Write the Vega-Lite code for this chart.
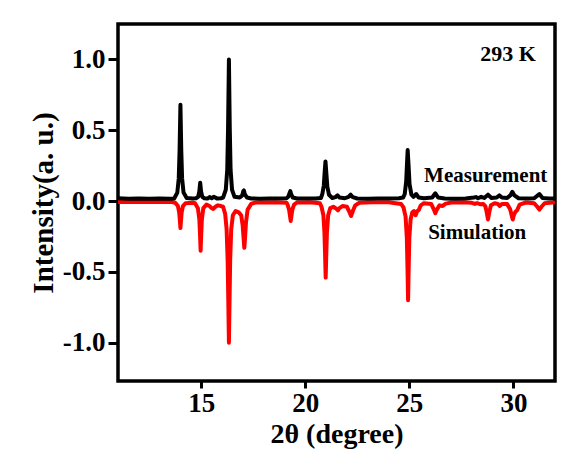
{
  "$schema": "https://vega.github.io/schema/vega-lite/v6.json",
  "width": 437,
  "height": 357,
  "autosize": {"type": "none"},
  "padding": {"left": 118, "top": 24, "right": 13, "bottom": 71},
  "background": "white",
  "config": {
    "font": "Liberation Serif",
    "view": {"stroke": "black", "strokeWidth": 3.5},
    "axis": {
      "grid": false,
      "domain": false,
      "ticks": true,
      "tickColor": "black",
      "tickWidth": 3,
      "labelFont": "Liberation Serif",
      "labelFontWeight": "bold",
      "labelFontSize": 27,
      "labelColor": "black",
      "titleFont": "Liberation Serif",
      "titleFontWeight": "bold",
      "titleFontSize": 29,
      "titleColor": "black"
    }
  },
  "datasets": {
    "xrd": [
      {"s":"Measurement","x":11.0,"y":0.02},{"s":"Measurement","x":11.5,"y":0.017},{"s":"Measurement","x":12.0,"y":0.019},{"s":"Measurement","x":12.5,"y":0.016},{"s":"Measurement","x":13.0,"y":0.018},{"s":"Measurement","x":13.5,"y":0.017},
      {"s":"Measurement","x":13.7,"y":0.018},{"s":"Measurement","x":13.85,"y":0.06},{"s":"Measurement","x":13.92,"y":0.16},{"s":"Measurement","x":13.96,"y":0.36},{"s":"Measurement","x":14.0,"y":0.68},{"s":"Measurement","x":14.04,"y":0.36},{"s":"Measurement","x":14.08,"y":0.16},{"s":"Measurement","x":14.15,"y":0.06},{"s":"Measurement","x":14.3,"y":0.022},
      {"s":"Measurement","x":14.6,"y":0.018},
      {"s":"Measurement","x":14.75,"y":0.02},{"s":"Measurement","x":14.85,"y":0.03},{"s":"Measurement","x":14.91,"y":0.07},{"s":"Measurement","x":14.95,"y":0.13},{"s":"Measurement","x":14.99,"y":0.07},{"s":"Measurement","x":15.05,"y":0.03},{"s":"Measurement","x":15.15,"y":0.02},
      {"s":"Measurement","x":15.3,"y":0.018},{"s":"Measurement","x":15.4,"y":0.028},{"s":"Measurement","x":15.5,"y":0.02},{"s":"Measurement","x":15.6,"y":0.03},{"s":"Measurement","x":15.75,"y":0.019},{"s":"Measurement","x":15.95,"y":0.02},
      {"s":"Measurement","x":16.05,"y":0.025},{"s":"Measurement","x":16.18,"y":0.08},{"s":"Measurement","x":16.25,"y":0.22},{"s":"Measurement","x":16.29,"y":0.52},{"s":"Measurement","x":16.33,"y":1.0},{"s":"Measurement","x":16.37,"y":0.52},{"s":"Measurement","x":16.41,"y":0.22},{"s":"Measurement","x":16.48,"y":0.08},{"s":"Measurement","x":16.6,"y":0.03},
      {"s":"Measurement","x":16.85,"y":0.025},{"s":"Measurement","x":16.97,"y":0.04},{"s":"Measurement","x":17.02,"y":0.07},{"s":"Measurement","x":17.05,"y":0.075},{"s":"Measurement","x":17.09,"y":0.05},{"s":"Measurement","x":17.2,"y":0.025},{"s":"Measurement","x":17.4,"y":0.018},
      {"s":"Measurement","x":17.8,"y":0.017},{"s":"Measurement","x":18.3,"y":0.019},{"s":"Measurement","x":18.8,"y":0.018},{"s":"Measurement","x":19.1,"y":0.02},
      {"s":"Measurement","x":19.18,"y":0.03},{"s":"Measurement","x":19.24,"y":0.055},{"s":"Measurement","x":19.28,"y":0.07},{"s":"Measurement","x":19.32,"y":0.05},{"s":"Measurement","x":19.4,"y":0.025},{"s":"Measurement","x":19.6,"y":0.018},
      {"s":"Measurement","x":20.0,"y":0.019},{"s":"Measurement","x":20.5,"y":0.018},{"s":"Measurement","x":20.75,"y":0.022},
      {"s":"Measurement","x":20.82,"y":0.05},{"s":"Measurement","x":20.89,"y":0.11},{"s":"Measurement","x":20.93,"y":0.2},{"s":"Measurement","x":20.97,"y":0.28},{"s":"Measurement","x":21.01,"y":0.2},{"s":"Measurement","x":21.06,"y":0.1},{"s":"Measurement","x":21.14,"y":0.045},{"s":"Measurement","x":21.3,"y":0.022},
      {"s":"Measurement","x":21.45,"y":0.028},{"s":"Measurement","x":21.55,"y":0.04},{"s":"Measurement","x":21.65,"y":0.025},{"s":"Measurement","x":21.9,"y":0.02},{"s":"Measurement","x":22.08,"y":0.03},{"s":"Measurement","x":22.18,"y":0.045},{"s":"Measurement","x":22.28,"y":0.028},{"s":"Measurement","x":22.5,"y":0.018},
      {"s":"Measurement","x":23.0,"y":0.017},{"s":"Measurement","x":23.5,"y":0.019},{"s":"Measurement","x":24.0,"y":0.018},{"s":"Measurement","x":24.5,"y":0.02},{"s":"Measurement","x":24.7,"y":0.025},
      {"s":"Measurement","x":24.78,"y":0.05},{"s":"Measurement","x":24.85,"y":0.14},{"s":"Measurement","x":24.89,"y":0.27},{"s":"Measurement","x":24.92,"y":0.36},{"s":"Measurement","x":24.96,"y":0.26},{"s":"Measurement","x":25.01,"y":0.12},{"s":"Measurement","x":25.1,"y":0.045},{"s":"Measurement","x":25.2,"y":0.03},
      {"s":"Measurement","x":25.33,"y":0.05},{"s":"Measurement","x":25.45,"y":0.025},{"s":"Measurement","x":25.7,"y":0.02},{"s":"Measurement","x":26.1,"y":0.025},{"s":"Measurement","x":26.25,"y":0.055},{"s":"Measurement","x":26.38,"y":0.025},{"s":"Measurement","x":26.7,"y":0.018},{"s":"Measurement","x":27.2,"y":0.017},{"s":"Measurement","x":27.7,"y":0.019},
      {"s":"Measurement","x":28.1,"y":0.025},{"s":"Measurement","x":28.2,"y":0.028},{"s":"Measurement","x":28.3,"y":0.02},{"s":"Measurement","x":28.45,"y":0.03},{"s":"Measurement","x":28.6,"y":0.022},{"s":"Measurement","x":28.78,"y":0.045},{"s":"Measurement","x":28.95,"y":0.022},{"s":"Measurement","x":29.2,"y":0.025},{"s":"Measurement","x":29.33,"y":0.04},{"s":"Measurement","x":29.45,"y":0.025},{"s":"Measurement","x":29.7,"y":0.022},{"s":"Measurement","x":29.85,"y":0.04},{"s":"Measurement","x":29.95,"y":0.065},{"s":"Measurement","x":30.05,"y":0.04},{"s":"Measurement","x":30.25,"y":0.02},{"s":"Measurement","x":30.7,"y":0.018},{"s":"Measurement","x":31.0,"y":0.02},{"s":"Measurement","x":31.25,"y":0.05},{"s":"Measurement","x":31.4,"y":0.022},{"s":"Measurement","x":31.7,"y":0.018},{"s":"Measurement","x":32.0,"y":0.018},

      {"s":"Simulation","x":11.0,"y":-0.007},{"s":"Simulation","x":13.6,"y":-0.007},
      {"s":"Simulation","x":13.75,"y":-0.012},{"s":"Simulation","x":13.88,"y":-0.035},{"s":"Simulation","x":13.94,"y":-0.08},{"s":"Simulation","x":13.97,"y":-0.13},{"s":"Simulation","x":14.0,"y":-0.19},{"s":"Simulation","x":14.03,"y":-0.13},{"s":"Simulation","x":14.06,"y":-0.08},{"s":"Simulation","x":14.12,"y":-0.035},{"s":"Simulation","x":14.25,"y":-0.015},
      {"s":"Simulation","x":14.6,"y":-0.012},
      {"s":"Simulation","x":14.7,"y":-0.015},{"s":"Simulation","x":14.84,"y":-0.05},{"s":"Simulation","x":14.91,"y":-0.13},{"s":"Simulation","x":14.94,"y":-0.23},{"s":"Simulation","x":14.97,"y":-0.35},{"s":"Simulation","x":15.0,"y":-0.23},{"s":"Simulation","x":15.03,"y":-0.13},{"s":"Simulation","x":15.1,"y":-0.05},{"s":"Simulation","x":15.25,"y":-0.025},
      {"s":"Simulation","x":15.4,"y":-0.035},{"s":"Simulation","x":15.5,"y":-0.05},{"s":"Simulation","x":15.58,"y":-0.055},{"s":"Simulation","x":15.68,"y":-0.04},{"s":"Simulation","x":15.8,"y":-0.03},{"s":"Simulation","x":15.95,"y":-0.035},
      {"s":"Simulation","x":16.05,"y":-0.04},{"s":"Simulation","x":16.15,"y":-0.09},{"s":"Simulation","x":16.22,"y":-0.2},{"s":"Simulation","x":16.27,"y":-0.42},{"s":"Simulation","x":16.3,"y":-0.7},{"s":"Simulation","x":16.33,"y":-1.0},{"s":"Simulation","x":16.36,"y":-0.7},{"s":"Simulation","x":16.39,"y":-0.42},{"s":"Simulation","x":16.44,"y":-0.2},{"s":"Simulation","x":16.52,"y":-0.1},{"s":"Simulation","x":16.65,"y":-0.07},
      {"s":"Simulation","x":16.8,"y":-0.08},{"s":"Simulation","x":16.92,"y":-0.1},{"s":"Simulation","x":16.99,"y":-0.17},{"s":"Simulation","x":17.04,"y":-0.27},{"s":"Simulation","x":17.07,"y":-0.33},{"s":"Simulation","x":17.1,"y":-0.27},{"s":"Simulation","x":17.15,"y":-0.15},{"s":"Simulation","x":17.23,"y":-0.06},{"s":"Simulation","x":17.4,"y":-0.02},
      {"s":"Simulation","x":17.6,"y":-0.01},{"s":"Simulation","x":18.5,"y":-0.008},{"s":"Simulation","x":19.1,"y":-0.012},
      {"s":"Simulation","x":19.15,"y":-0.025},{"s":"Simulation","x":19.22,"y":-0.06},{"s":"Simulation","x":19.26,"y":-0.1},{"s":"Simulation","x":19.3,"y":-0.14},{"s":"Simulation","x":19.34,"y":-0.1},{"s":"Simulation","x":19.38,"y":-0.06},{"s":"Simulation","x":19.46,"y":-0.025},{"s":"Simulation","x":19.6,"y":-0.01},
      {"s":"Simulation","x":20.2,"y":-0.008},{"s":"Simulation","x":20.7,"y":-0.015},
      {"s":"Simulation","x":20.78,"y":-0.04},{"s":"Simulation","x":20.87,"y":-0.1},{"s":"Simulation","x":20.92,"y":-0.22},{"s":"Simulation","x":20.95,"y":-0.37},{"s":"Simulation","x":20.98,"y":-0.54},{"s":"Simulation","x":21.01,"y":-0.37},{"s":"Simulation","x":21.04,"y":-0.22},{"s":"Simulation","x":21.1,"y":-0.1},{"s":"Simulation","x":21.2,"y":-0.05},
      {"s":"Simulation","x":21.35,"y":-0.04},{"s":"Simulation","x":21.5,"y":-0.055},{"s":"Simulation","x":21.57,"y":-0.065},{"s":"Simulation","x":21.64,"y":-0.05},{"s":"Simulation","x":21.8,"y":-0.035},{"s":"Simulation","x":22.0,"y":-0.04},{"s":"Simulation","x":22.1,"y":-0.07},{"s":"Simulation","x":22.2,"y":-0.105},{"s":"Simulation","x":22.3,"y":-0.065},{"s":"Simulation","x":22.4,"y":-0.03},{"s":"Simulation","x":22.6,"y":-0.012},
      {"s":"Simulation","x":23.2,"y":-0.008},{"s":"Simulation","x":24.0,"y":-0.008},{"s":"Simulation","x":24.6,"y":-0.02},
      {"s":"Simulation","x":24.72,"y":-0.045},{"s":"Simulation","x":24.82,"y":-0.11},{"s":"Simulation","x":24.88,"y":-0.26},{"s":"Simulation","x":24.91,"y":-0.46},{"s":"Simulation","x":24.94,"y":-0.7},{"s":"Simulation","x":24.97,"y":-0.46},{"s":"Simulation","x":25.0,"y":-0.26},{"s":"Simulation","x":25.06,"y":-0.13},{"s":"Simulation","x":25.14,"y":-0.08},
      {"s":"Simulation","x":25.22,"y":-0.07},{"s":"Simulation","x":25.3,"y":-0.1},{"s":"Simulation","x":25.38,"y":-0.07},{"s":"Simulation","x":25.45,"y":-0.065},{"s":"Simulation","x":25.55,"y":-0.03},{"s":"Simulation","x":25.7,"y":-0.015},
      {"s":"Simulation","x":26.05,"y":-0.02},{"s":"Simulation","x":26.18,"y":-0.06},{"s":"Simulation","x":26.25,"y":-0.085},{"s":"Simulation","x":26.32,"y":-0.06},{"s":"Simulation","x":26.45,"y":-0.03},{"s":"Simulation","x":26.6,"y":-0.035},{"s":"Simulation","x":26.72,"y":-0.02},{"s":"Simulation","x":27.0,"y":-0.01},
      {"s":"Simulation","x":27.6,"y":-0.008},{"s":"Simulation","x":28.0,"y":-0.012},{"s":"Simulation","x":28.15,"y":-0.02},{"s":"Simulation","x":28.25,"y":-0.015},{"s":"Simulation","x":28.4,"y":-0.022},{"s":"Simulation","x":28.55,"y":-0.02},
      {"s":"Simulation","x":28.65,"y":-0.035},{"s":"Simulation","x":28.72,"y":-0.08},{"s":"Simulation","x":28.78,"y":-0.13},{"s":"Simulation","x":28.84,"y":-0.08},{"s":"Simulation","x":28.92,"y":-0.03},{"s":"Simulation","x":29.1,"y":-0.015},
      {"s":"Simulation","x":29.25,"y":-0.02},{"s":"Simulation","x":29.34,"y":-0.035},{"s":"Simulation","x":29.45,"y":-0.02},{"s":"Simulation","x":29.7,"y":-0.02},{"s":"Simulation","x":29.85,"y":-0.06},{"s":"Simulation","x":29.93,"y":-0.11},{"s":"Simulation","x":29.97,"y":-0.13},{"s":"Simulation","x":30.02,"y":-0.1},{"s":"Simulation","x":30.1,"y":-0.075},{"s":"Simulation","x":30.18,"y":-0.065},{"s":"Simulation","x":30.3,"y":-0.025},{"s":"Simulation","x":30.6,"y":-0.01},
      {"s":"Simulation","x":31.0,"y":-0.015},{"s":"Simulation","x":31.15,"y":-0.04},{"s":"Simulation","x":31.25,"y":-0.06},{"s":"Simulation","x":31.35,"y":-0.04},{"s":"Simulation","x":31.5,"y":-0.015},{"s":"Simulation","x":32.0,"y":-0.008}
    ],
    "notes": [
      {"label": "Measurement", "x": 28.67, "y": 0.177},
      {"label": "Simulation", "x": 28.26, "y": -0.223}
    ],
    "temp": [
      {"label": "293 K", "x": 29.75, "y": 1.04}
    ]
  },
  "encoding": {
    "x": {
      "field": "x", "type": "quantitative",
      "scale": {"domain": [11, 32], "nice": false, "zero": false},
      "axis": {"title": "2θ (degree)", "values": [15, 20, 25, 30], "tickSize": 7, "labelPadding": 2, "titlePadding": 4, "titleFontSize": 28}
    },
    "y": {
      "field": "y", "type": "quantitative",
      "scale": {"domain": [-1.27, 1.25], "nice": false, "zero": false},
      "axis": {
        "title": "Intensity(a. u.)",
        "values": [-1, -0.5, 0, 0.5, 1],
        "labelExpr": "datum.value < 0 ? '-' + format(-datum.value, '.1f') : format(datum.value, '.1f')",
        "tickSize": 10,
        "labelPadding": 3,
        "titlePadding": 4
      }
    }
  },
  "layer": [
    {
      "data": {"name": "xrd"},
      "transform": [{"filter": "datum.s === 'Simulation'"}],
      "mark": {"type": "line", "color": "#ff0000", "strokeWidth": 4, "strokeJoin": "round", "clip": true},
      "encoding": {"order": {"field": "x", "type": "quantitative"}}
    },
    {
      "data": {"name": "xrd"},
      "transform": [{"filter": "datum.s === 'Measurement'"}],
      "mark": {"type": "line", "color": "#000000", "strokeWidth": 4, "strokeJoin": "round", "clip": true},
      "encoding": {"order": {"field": "x", "type": "quantitative"}}
    },
    {
      "data": {"name": "notes"},
      "mark": {"type": "text", "font": "Liberation Serif", "fontWeight": "bold", "fontSize": 21, "color": "black", "align": "center", "baseline": "middle"},
      "encoding": {"text": {"field": "label"}}
    },
    {
      "data": {"name": "temp"},
      "mark": {"type": "text", "font": "Liberation Serif", "fontWeight": "bold", "fontSize": 22, "color": "black", "align": "center", "baseline": "middle"},
      "encoding": {"text": {"field": "label"}}
    }
  ]
}
